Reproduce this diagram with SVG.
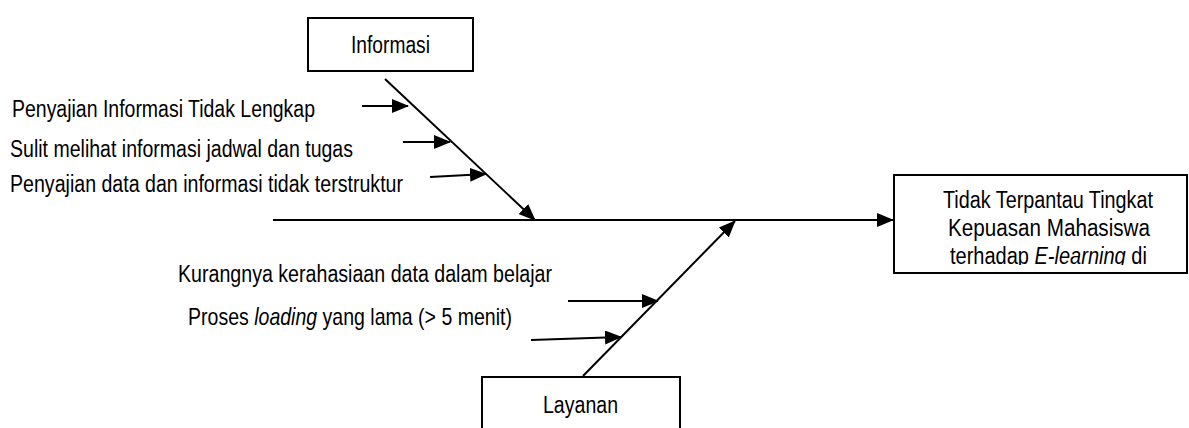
<svg xmlns="http://www.w3.org/2000/svg" width="1189" height="428" viewBox="0 0 1189 428">
<style>
  .box { fill: #ffffff; stroke: #000000; stroke-width: 2; }
  .ln { fill: none; stroke: #000000; stroke-width: 2; }
  .t { font-family: "Liberation Sans", Arial, sans-serif; font-size: 23px; fill: #000000; }
  .i { font-style: italic; }
  .c { text-anchor: middle; }
</style>
<defs>
  <marker id="ah" markerWidth="17" markerHeight="14" refX="16" refY="7" orient="auto" markerUnits="userSpaceOnUse">
    <path d="M0,0 L17,7 L0,14 z" fill="#000000"/>
  </marker>
  <clipPath id="effclip">
    <rect x="895" y="176" width="292" height="89"/>
  </clipPath>
</defs>
<rect width="1189" height="428" fill="#ffffff"/>

<g id="connectors">
  <line class="ln" x1="273" y1="220" x2="893" y2="220" marker-end="url(#ah)"/>
  <line class="ln" x1="385" y1="79" x2="535" y2="220" marker-end="url(#ah)"/>
  <line class="ln" x1="583" y1="376" x2="735" y2="221" marker-end="url(#ah)"/>
  <line class="ln" x1="362" y1="106" x2="408" y2="106" marker-end="url(#ah)"/>
  <line class="ln" x1="403" y1="142" x2="450" y2="142" marker-end="url(#ah)"/>
  <line class="ln" x1="430" y1="177" x2="486" y2="174" marker-end="url(#ah)"/>
  <line class="ln" x1="568" y1="301" x2="658" y2="301" marker-end="url(#ah)"/>
  <line class="ln" x1="531" y1="340" x2="621" y2="337" marker-end="url(#ah)"/>
</g>

<g id="node-informasi">
  <rect class="box" x="308" y="18" width="165" height="53"/>
  <text class="t c" x="390.5" y="53" textLength="79" lengthAdjust="spacingAndGlyphs">Informasi</text>
</g>

<g id="node-layanan">
  <rect class="box" x="482" y="377" width="198" height="70"/>
  <text class="t c" x="580.5" y="413" textLength="75" lengthAdjust="spacingAndGlyphs">Layanan</text>
</g>

<g id="node-effect">
  <rect class="box" x="894" y="175" width="293" height="98"/>
  <g clip-path="url(#effclip)">
    <text class="t c" x="1048" y="208" textLength="210" lengthAdjust="spacingAndGlyphs">Tidak Terpantau Tingkat</text>
    <text class="t c" x="1049" y="236" textLength="202" lengthAdjust="spacingAndGlyphs">Kepuasan Mahasiswa</text>
    <text class="t" transform="translate(950,264) scale(0.87,1)" x="0" y="0">terhadap <tspan class="i">E-learning</tspan> di</text>
  </g>
</g>

<g id="cause-1">
  <text class="t" x="12" y="117" textLength="303" lengthAdjust="spacingAndGlyphs">Penyajian Informasi Tidak Lengkap</text>
</g>
<g id="cause-2">
  <text class="t" x="10" y="157" textLength="343" lengthAdjust="spacingAndGlyphs">Sulit melihat informasi jadwal dan tugas</text>
</g>
<g id="cause-3">
  <text class="t" x="10" y="192" textLength="393" lengthAdjust="spacingAndGlyphs">Penyajian data dan informasi tidak terstruktur</text>
</g>
<g id="cause-4">
  <text class="t" x="178" y="282" textLength="374" lengthAdjust="spacingAndGlyphs">Kurangnya kerahasiaan data dalam belajar</text>
</g>
<g id="cause-5">
  <text class="t" transform="translate(188,325) scale(0.849,1)" x="0" y="0">Proses <tspan class="i">loading</tspan> yang lama (&gt; 5 menit)</text>
</g>
</svg>
